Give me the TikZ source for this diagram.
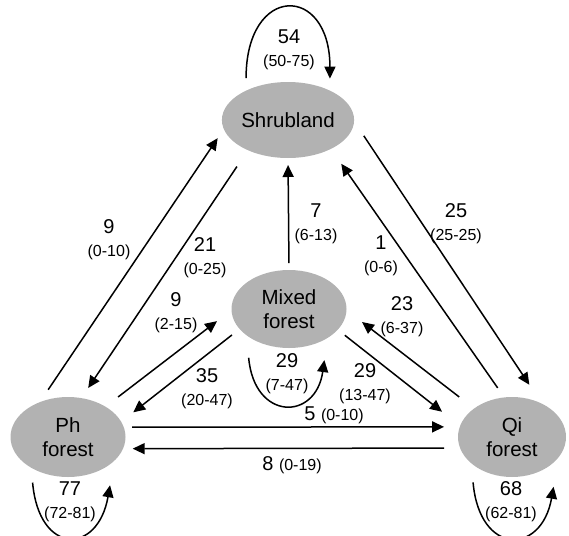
\documentclass[tikz,border=0pt]{standalone}
\usepackage{fontspec}
\setmainfont{Liberation Sans}
\usetikzlibrary{shapes.geometric,arrows.meta}
\tikzset{
  state/.style={ellipse,fill=gray!60,inner sep=0pt,outer sep=0pt,align=center,font=\fontsize{20.5}{24}\selectfont},
  arr/.style={line width=1.5pt,-{Triangle[length=12pt,width=11pt]}},
  rate/.style={align=center,inner sep=0pt,font=\fontsize{20}{23}\selectfont},
}
\newcommand{\rng}[1]{{\fontsize{16}{18}\selectfont(#1)}}
\begin{document}
\begin{tikzpicture}[x=1pt,y=1pt]
\useasboundingbox (0,0) rectangle (569,-535);
% states
\node[state,minimum width=116pt,minimum height=76pt] (shrub) at (288,-120) {Shrubland};
\node[state,minimum width=115pt,minimum height=78pt] (mixed) at (289,-309) {Mixed\\forest};
\node[state,minimum width=115pt,minimum height=80pt] (ph) at (68,-437) {Ph\\forest};
\node[state,minimum width=108pt,minimum height=80pt] (qi) at (512,-437) {Qi\\forest};
% transitions
\draw[arr,shorten <=15pt,shorten >=11pt] (ph.129.5) -- (shrub.188);
\draw[arr,shorten <=19.7pt,shorten >=12.2pt] (shrub.217.1) -- (ph.71.3);
\draw[arr,shorten <=7pt,shorten >=7pt] (mixed.north) -- (shrub.south);
\draw[arr,shorten <=15.9pt,shorten >=18.3pt] (ph.39.2) -- (mixed.181.9);
\draw[arr,shorten <=9.7pt,shorten >=15.3pt] (mixed.202.1) -- (ph.16.4);
\draw[arr,shorten <=9pt,shorten >=23pt] (mixed.337.4) -- (qi.168.3);
\draw[arr,shorten <=18.9pt,shorten >=19.6pt] (qi.143.2) -- (mixed.359);
\draw[arr,shorten <=11.6pt,shorten >=18.1pt] (qi.101.9) -- (shrub.326.3);
\draw[arr,shorten <=17.6pt,shorten >=22.8pt] (shrub.359.5) -- (qi.48);
\draw[arr,shorten <=8.3pt,shorten >=15.7pt] (ph.10.2) -- (qi.169.2);
\draw[arr,shorten <=16.1pt,shorten >=9.7pt] (qi.192) -- (ph.348.7);
% self loops
\draw[arr,shorten <=12.5pt,shorten >=12pt] (shrub.145.5) .. controls +(90:107) and +(90:107) .. (shrub.35.8);
\draw[arr,shorten <=22.4pt,shorten >=22.3pt] (mixed.212.3) .. controls +(275:86) and +(262:84) .. (mixed.323.7);
\draw[arr,shorten <=14.8pt,shorten >=25pt] (ph.220.9) .. controls +(275:88) and +(260:96) .. (ph.333.9);
\draw[arr,shorten <=19.1pt,shorten >=30.3pt] (qi.213.9) .. controls +(275:93) and +(260:100) .. (qi.337.3);
% rates
\node[rate] (r-ss) at (289,-50) {54\\\rng{50-75}};
\node[rate] (r-ps) at (109,-240) {9\\\rng{0-10}};
\node[rate] (r-sp) at (205,-258) {21\\\rng{0-25}};
\node[rate] (r-ms) at (316,-224) {7\\\rng{6-13}};
\node[rate] (r-qs) at (381,-256) {1\\\rng{0-6}};
\node[rate] (r-sq) at (456,-224) {25\\\rng{25-25}};
\node[rate] (r-pm) at (176,-313) {9\\\rng{2-15}};
\node[rate] (r-qm) at (402,-317) {23\\\rng{6-37}};
\node[rate] (r-mp) at (207,-389) {35\\\rng{20-47}};
\node[rate] (r-mm) at (287,-374) {29\\\rng{7-47}};
\node[rate] (r-mq) at (365,-384) {29\\\rng{13-47}};
\node[rate] (r-pp) at (70,-502) {77\\\rng{72-81}};
\node[rate] (r-qq) at (511,-502) {68\\\rng{62-81}};
\node[rate] (r-pq) at (334,-415) {5 \rng{0-10}};
\node[rate] (r-qp) at (292,-465) {8 \rng{0-19}};
\end{tikzpicture}
\end{document}
